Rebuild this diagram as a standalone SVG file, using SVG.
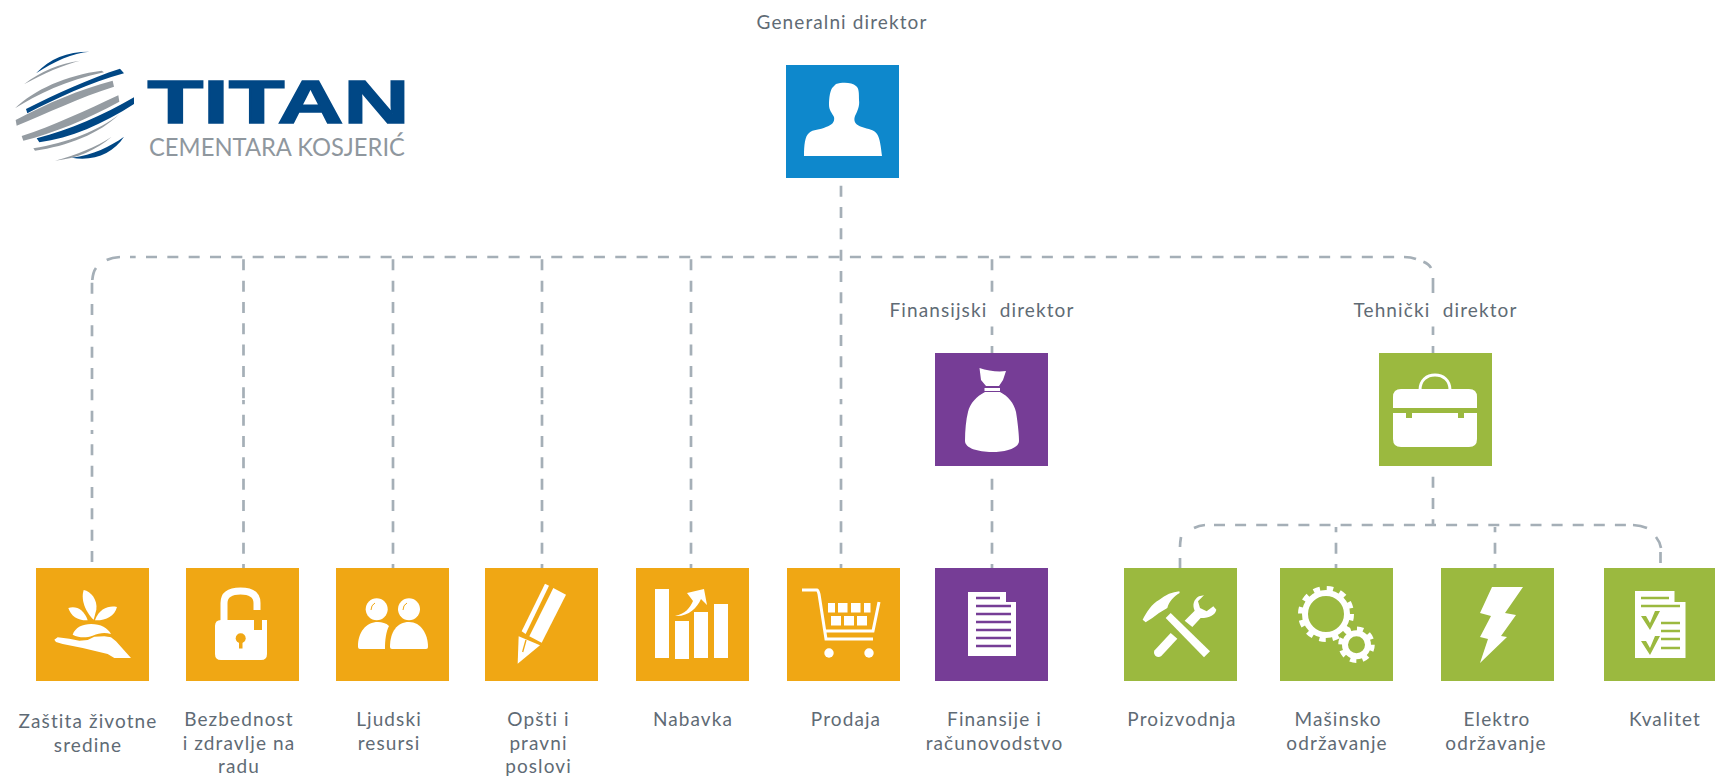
<svg xmlns="http://www.w3.org/2000/svg" width="1715" height="776" viewBox="0 0 1715 776">
<style>
.t{font-family:"Lato","Liberation Sans",sans-serif;font-size:19px;letter-spacing:1.1px;fill:#5f6b75;text-anchor:middle}
.w{word-spacing:6.500px}
.c,.s{fill:none;stroke:#a5afb7;stroke-width:2.700}
.c{stroke-dasharray:11 10.330}
.i{fill:#fff}
.o{fill:#f0a714}.p{fill:#763d96}.g{fill:#9bb93f}.b{fill:#0e88cc}
.lb{fill:#004785}.lg{fill:#959ca2}
.z{transform:scale(.33333)}
</style>
<rect width="1715" height="776" fill="#fff"/>
<g id="logo">
<g transform="translate(0 30) scale(.33333)">
<path class="lb" d="M108 130C150 85 200 65 268 65C220 68 160 95 108 130Z"/>
<path class="lg" d="M72 163C120 125 180 100 240 92C190 105 130 130 72 163Z"/>
<path class="lg" d="M45 235C100 180 200 135 305 122L312 127C200 150 110 195 45 235Z"/>
<path class="lb" d="M78 237C170 190 270 145 360 116L372 130C270 158 170 205 82 250Z"/>
<path class="lg" d="M47 270C140 220 240 178 338 152L342 170C240 202 140 250 50 287Z"/>
<path class="lg" d="M65 318C160 288 260 240 355 196L358 215C260 268 160 310 70 332Z"/>
<path class="lb" d="M110 325C210 300 310 255 402 202L402 222C310 282 210 325 118 337Z"/>
<path class="lg" d="M100 355C200 340 300 300 358 253C300 310 200 350 105 362Z"/>
<path class="lg" d="M165 392C230 375 290 350 335 320C290 360 230 385 165 392Z"/>
<path class="lb" d="M215 383C280 375 330 350 372 320C340 370 280 395 215 383Z"/>
</g>
<text x="147.500" y="123" textLength="262" lengthAdjust="spacingAndGlyphs" style="font-family:'Liberation Sans',sans-serif;font-weight:700;font-size:61px;fill:#004785;stroke:#004785;stroke-width:1.500">TITAN</text>
<text x="149" y="156" textLength="256" lengthAdjust="spacingAndGlyphs" style="font-family:'Lato','Liberation Sans',sans-serif;font-size:25px;fill:#8f979e">CEMENTARA KOSJERIĆ</text>
</g>
<g id="connectors">
<path class="c" d="M841 185.700V400"/>
<path class="c" d="M841 575V400"/>
<path class="c" stroke-dashoffset="5.330" d="M130 257H1404"/>
<path class="s" d="M92.300 280Q93 272 96 268M106.700 260Q112 257.500 120 257M1404 257Q1411 257 1416 259M1423.400 261.700Q1429 264 1431 268M1433 278V293M1433 326.500V335M1433 346V353"/>
<path class="c" d="M92 282.700V430"/>
<path class="c" d="M92 562V430"/>
<path class="c" d="M243.500 259.300V400"/><path class="c" d="M243.500 575V400"/>
<path class="c" d="M393 259.300V400"/><path class="c" d="M393 575V400"/>
<path class="c" d="M542 259.300V400"/><path class="c" d="M542 575V400"/>
<path class="c" d="M691 259.300V400"/><path class="c" d="M691 575V400"/>
<path class="c" d="M992 259.300V292"/>
<path class="s" d="M992 326.500V335M992 346V353"/>
<path class="c" d="M992 575V476"/>
<path class="c" d="M1433 476.700V525"/>
<path class="s" d="M1180 568V558M1180 547C1180 543 1180.500 540 1181 537M1194 528Q1199 525.500 1205 525M1633 525Q1641 525.500 1647 528M1656 537Q1660 542 1661 548M1660.500 552V563"/>
<path d="M1214 525H1630" fill="none" stroke="#a5afb7" stroke-width="2.700" stroke-dasharray="11 10.100"/>
<path class="c" d="M1336 575V527"/>
<path class="c" d="M1495 575V527"/>
</g>
<g id="n-generalni">
<rect class="b" x="786" y="65" width="113" height="113"/>
<path class="i" d="M804 156C804 145 805 136 809 133C813 129 820 130 826 127C832 125 835 122 834 117C832 113 829 110 829 105C829 98 830 90 833 87L836 84C842 82 852 82 856 86C859 88 859 93 859 100C860 106 857 112 855 116C853 122 856 125 862 127C868 129 875 130 877 134C880 138 881 148 882 156Z"/>
<text class="t" x="842" y="29">Generalni direktor</text>
</g>
<g id="n-finansijski">
<rect class="p" x="935" y="353" width="113" height="113"/>
<path class="i" d="M979.500 368C988 371 998 372 1006 371L1003 380L999 386H986L981 380Z"/>
<rect class="i" x="984.500" y="388" width="15.500" height="3"/>
<path class="i" d="M985 392H1000C1008 396 1014 403 1016 412C1018 424 1019 436 1019 441C1019 448 1006 452 992 452C978 452 965 448 965 441C965 430 966 420 968 412C970 403 977 396 985 392Z"/>
<text class="t w" x="982" y="317">Finansijski direktor</text>
</g>
<g id="n-tehnicki">
<rect class="g" x="1379" y="353" width="113" height="113"/>
<path d="M1420 390C1420 380 1427 375 1435 375C1443 375 1450 380 1450 390" fill="none" stroke="#fff" stroke-width="3"/>
<path class="i" d="M1393 408V397Q1393 389 1401 389H1469Q1477 389 1477 397V408Z"/>
<path class="i" d="M1393 413H1406V418H1412V413H1458V418H1464V413H1477V439Q1477 447 1469 447H1401Q1393 447 1393 439Z"/>
<text class="t w" x="1435.500" y="317">Tehnički direktor</text>
</g>
<g id="n-zastita">
<rect class="o" x="36" y="568" width="113" height="113"/>
<g transform="translate(36 568) scale(.33333)">
<path class="i" d="M55 215L65 208L100 212L130 218L155 216L175 206L205 205L225 208L240 220L285 270H235L215 258L140 240L80 228L60 222Z"/>
<path class="i" d="M110 200C118 178 140 168 165 168C195 168 215 180 225 198C205 192 190 195 170 203C150 210 130 210 110 200Z"/>
<path class="i" d="M143 66C165 70 185 95 181 125L173 155C155 140 132 100 143 66Z"/>
<path class="i" d="M97 120C120 112 145 125 155 157C125 158 105 145 97 120Z"/>
<path class="i" d="M243 117C220 112 190 120 177 157C210 158 235 145 243 117Z"/>
</g>
<text class="t" x="88" y="728">Zaštita životne</text>
<text class="t" x="88" y="752">sredine</text>
</g>
<g id="n-bezbednost">
<rect class="o" x="186" y="568" width="113" height="113"/>
<path d="M224 622V603C224 594 231 591 240.500 591C250 591 257 594 257 603V610" fill="none" stroke="#fff" stroke-width="7"/>
<path class="i" d="M221 620H254V630H262V620H267V654Q267 660 261 660H221Q215 660 215 654V626Q215 620 221 620Z"/>
<circle class="o" cx="240.700" cy="638.300" r="5"/>
<rect class="o" x="239" y="640" width="3.500" height="8.500"/>
<text class="t" x="239" y="726">Bezbednost</text>
<text class="t" x="239" y="750">i zdravlje na</text>
<text class="t" x="239" y="773">radu</text>
</g>
<g id="n-ljudski">
<rect class="o" x="336" y="568" width="113" height="113"/>
<circle class="i" cx="376.700" cy="609.300" r="11"/>
<circle class="i" cx="409" cy="609.300" r="11"/>
<path d="M371 610Q371 605 375 603M403 610Q403 605 407 603" fill="none" stroke="#f0a714" stroke-width="1"/>
<path class="i" d="M358 647C358 632 366 622 378 622C382 622 386 623 389 626C386 632 385 640 385 649H360Q358 649 358 647Z"/>
<path class="i" d="M390 647C390 632 397 622 409 622C421 622 428 634 428 647Q428 649 426 649H392Q390 649 390 647Z"/>
<text class="t" x="389" y="726">Ljudski</text>
<text class="t" x="389" y="750">resursi</text>
</g>
<g id="n-opsti">
<rect class="o" x="485" y="568" width="113" height="113"/>
<g transform="translate(485 568) scale(.33333)">
<path class="i" d="M205 60L243 80L170 224L133 205Z"/>
<path class="i" d="M180 47L192 53L122 198L110 190Z"/>
<path class="i" d="M101 205L165 232L98 287Z"/>
<path d="M113 252L123 216" stroke="#f0a714" stroke-width="4" fill="none"/>
</g>
<text class="t" x="538.500" y="726">Opšti i</text>
<text class="t" x="538.500" y="750">pravni</text>
<text class="t" x="538.500" y="773">poslovi</text>
</g>
<g id="n-nabavka">
<rect class="o" x="636" y="568" width="113" height="113"/>
<rect class="i" x="655" y="589" width="14" height="69"/>
<rect class="i" x="675" y="621" width="14" height="38"/>
<rect class="i" x="694" y="612" width="14" height="46"/>
<rect class="i" x="714" y="604" width="14" height="54"/>
<path class="i" d="M675 616C685 614 690 608 693 601L687 593L704 589L707 605L701 599C697 608 688 617 675 616Z"/>
<text class="t" x="693" y="726">Nabavka</text>
</g>
<g id="n-prodaja">
<rect class="o" x="787" y="568" width="113" height="113"/>
<path d="M802 590H817Q818 590 819 594L826 639H873M824 631H873L879 602" fill="none" stroke="#fff" stroke-width="3"/>
<g class="i">
<rect x="828" y="603" width="7" height="9.500"/><rect x="838" y="603" width="9.500" height="9.500"/><rect x="851" y="603" width="9.500" height="9.500"/><rect x="864" y="603" width="6.500" height="9.500"/>
<rect x="831" y="616" width="10" height="9.500"/><rect x="844" y="616" width="10" height="9.500"/><rect x="857" y="616" width="10" height="9.500"/>
<circle cx="829" cy="653" r="4.700"/><circle cx="869" cy="653" r="4.700"/>
</g>
<text class="t" x="846" y="726">Prodaja</text>
</g>
<g id="n-finansije">
<rect class="p" x="935" y="568" width="113" height="113"/>
<path class="i" d="M968 592H1006V602H1016V656H968Z"/>
<path d="M976 598H1000M976 606H1011M976 614H1011M976 622H1011M976 630H1011M976 638H1011M976 646H1011" stroke="#763d96" stroke-width="2.500" fill="none"/>
<text class="t" x="994.500" y="726">Finansije i</text>
<text class="t" x="994.500" y="750">računovodstvo</text>
</g>
<g id="n-proizvodnja">
<rect class="g" x="1124" y="568" width="113" height="113"/>
<g transform="translate(1124 568) scale(.33333)">
<path class="i" d="M92 247L140 195L160 212L112 264Q103 270 94 263Q87 255 92 247Z"/>
<path class="i" d="M182 158L212 128C205 112 208 95 225 85L240 82L222 100L228 120L248 130L268 115L277 125C274 140 258 150 230 150L205 177Z"/>
<path class="i" d="M125 150L140 135L258 250L240 268Z"/>
<path class="i" d="M56 155C66 135 85 105 105 96C125 80 145 72 166 70L167 75C150 85 135 100 130 120L105 135L85 150L65 163Z"/>
</g>
<text class="t" x="1182" y="726">Proizvodnja</text>
</g>
<g id="n-masinsko">
<rect class="g" x="1280" y="568" width="113" height="113"/>
<g fill="none" stroke="#fff">
<circle cx="1326" cy="614" r="21" stroke-width="6"/>
<circle cx="1326" cy="614" r="25.500" stroke-width="5" stroke-dasharray="6.500 6.850"/>
<circle cx="1356.500" cy="644.700" r="11.500" stroke-width="6"/>
<circle cx="1356.500" cy="644.700" r="16" stroke-width="4.500" stroke-dasharray="6.300 6.270"/>
</g>
<text class="t" x="1338" y="726">Mašinsko</text>
<text class="t" x="1337" y="750">održavanje</text>
</g>
<g id="n-elektro">
<rect class="g" x="1441" y="568" width="113" height="113"/>
<path class="i" d="M1492 587H1523L1505 613L1516 615L1501 636L1507 637L1480 663L1488 639L1480 637L1491 616L1480 613Z"/>
<text class="t" x="1497" y="726">Elektro</text>
<text class="t" x="1496" y="750">održavanje</text>
</g>
<g id="n-kvalitet">
<rect class="g" x="1604" y="568" width="113" height="113"/>
<path class="i" d="M1635 591H1674.500V602H1685.500V658H1635Z"/>
<path d="M1641 598H1669M1641 606H1680M1661 623H1680M1661 631H1680M1661 639H1680M1661 648H1680" stroke="#9bb93f" stroke-width="2.500" fill="none"/>
<path class="g" d="M1641 616H1646L1650 623L1655 611H1660L1650 630Z"/>
<path class="g" d="M1641 641H1646L1650 648L1655 636H1660L1650 655Z"/>
<text class="t" x="1665" y="726">Kvalitet</text>
</g>
</svg>
